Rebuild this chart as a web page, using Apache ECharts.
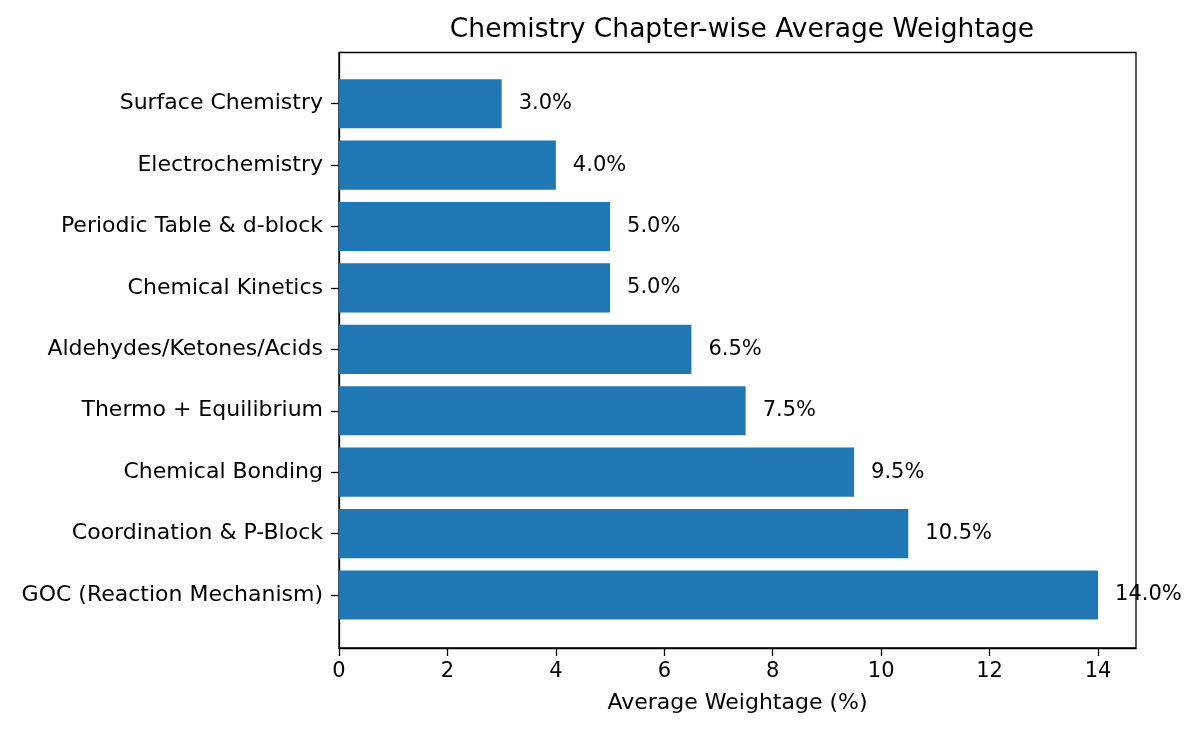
<!DOCTYPE html>
<html><head><meta charset="utf-8">
<script src="https://cdn.jsdelivr.net/npm/echarts@6/dist/echarts.min.js"></script>
<style>html,body{margin:0;padding:0;background:#fff}#c{width:1200px;height:732px}</style>
</head><body><div id="c"></div>
<script>
const categories = ["GOC (Reaction Mechanism)","Coordination & P-Block","Chemical Bonding","Thermo + Equilibrium","Aldehydes/Ketones/Acids","Chemical Kinetics","Periodic Table & d-block","Electrochemistry","Surface Chemistry"];
const weightage = [14.0,10.5,9.5,7.5,6.5,5.0,5.0,4.0,3.0];
const xTicks = [0,2,4,6,8,10,12,14];

const FONT = 'DejaVu Sans';
const chart = echarts.init(document.getElementById('c'), null, {renderer:'canvas'});
chart.setOption({
  animation:false,
  backgroundColor:'#fff',
  textStyle:{fontFamily:FONT},
  title:{text:'Chemistry Chapter-wise Average Weightage', left:737, top:12, textAlign:'center',
    textStyle:{fontFamily:FONT,fontSize:26.5,fontWeight:'normal',color:'#000'}},
  grid:[
    {left:339, right:64, top:52.5, height:595.5, show:true, borderColor:'#000', borderWidth:1.3, backgroundColor:'transparent', containLabel:false},
    {left:339, right:64, top:73, height:552.7, containLabel:false}
  ],
  xAxis:[
    {type:'value', gridIndex:0, min:0, max:14.7, interval:2,
      axisLine:{show:true,lineStyle:{color:'#000',width:1.3}},
      axisTick:{show:true,length:8,inside:false,customValues:xTicks,lineStyle:{color:'#000',width:1.3}},
      axisLabel:{fontFamily:FONT,fontSize:21,color:'#000',margin:13,customValues:xTicks},
      splitLine:{show:false},
      name:'Average Weightage (%)', nameLocation:'middle', nameGap:44,
      nameTextStyle:{fontFamily:FONT,fontSize:22,color:'#000'}},
    {type:'value', gridIndex:1, min:0, max:14.7, show:false}
  ],
  yAxis:[
    {type:'value', gridIndex:0, min:0, max:1, axisLine:{show:true,lineStyle:{color:'#000',width:1.3}},
      axisTick:{show:false}, axisLabel:{show:false}, splitLine:{show:false}},
    {type:'category', gridIndex:1, data:categories, boundaryGap:true,
      axisLine:{show:false},
      axisTick:{show:true,alignWithLabel:true,length:8,lineStyle:{color:'#000',width:1.3}},
      axisLabel:{fontFamily:FONT,fontSize:22,color:'#000',margin:16},
      splitLine:{show:false}}
  ],
  series:[{
    type:'bar', xAxisIndex:1, yAxisIndex:1, data:weightage,
    barCategoryGap:'20%',
    itemStyle:{color:'#1f77b4'},
    label:{show:true, position:'right', distance:17, fontFamily:FONT, fontSize:21, color:'#000',
      formatter:p=>p.value.toFixed(1)+'%'}
  }]
});
</script></body></html>
